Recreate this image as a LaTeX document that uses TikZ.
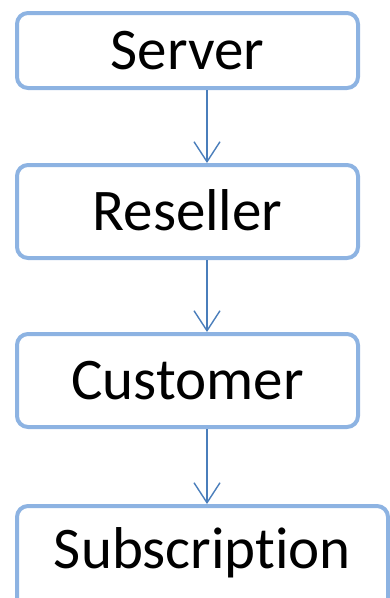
\documentclass[tikz,border=0pt]{standalone}
\usepackage{fontspec}
\setmainfont{Carlito}
\usetikzlibrary{arrows.meta}
\definecolor{boxline}{HTML}{8DB3E2}
\definecolor{arrowline}{HTML}{4A7EBB}
\begin{document}
\begin{tikzpicture}[x=1pt,y=-1pt,
  stagebox/.style={draw=boxline, line width=4pt, rounded corners=11pt, fill=white,
    minimum width=341pt, text height=37pt, text depth=0pt, inner sep=0pt,
    font=\fontsize{59}{62}\selectfont},
  flow/.style={draw=arrowline, line width=1.4pt,
    -{Straight Barb[length=20pt,width=26pt,line width=1.4pt]}}]
  \useasboundingbox (0,0) rectangle (389,598);
  % the four levels of the hierarchy
  \node[stagebox, minimum height=75pt] (server) at (187.5,50.5) {Server};
  \node[stagebox, minimum height=93pt] (reseller) at (187.5,211.5) {Reseller};
  \node[stagebox, minimum height=93pt] (customer) at (187.5,380.5) {Customer};
  \node[stagebox, minimum height=109pt, text depth=22pt, minimum width=371pt]
    (subscription) at (202.5,560.5) {Subscript\kern0pt ion};
  % connectors run down a common vertical line
  \coordinate (axis) at (207,0);
  \draw[flow] (server.south -| axis) -- (reseller.north -| axis);
  \draw[flow] (reseller.south -| axis) -- (customer.north -| axis);
  \draw[flow] (customer.south -| axis) -- (subscription.north -| axis);
\end{tikzpicture}
\end{document}
